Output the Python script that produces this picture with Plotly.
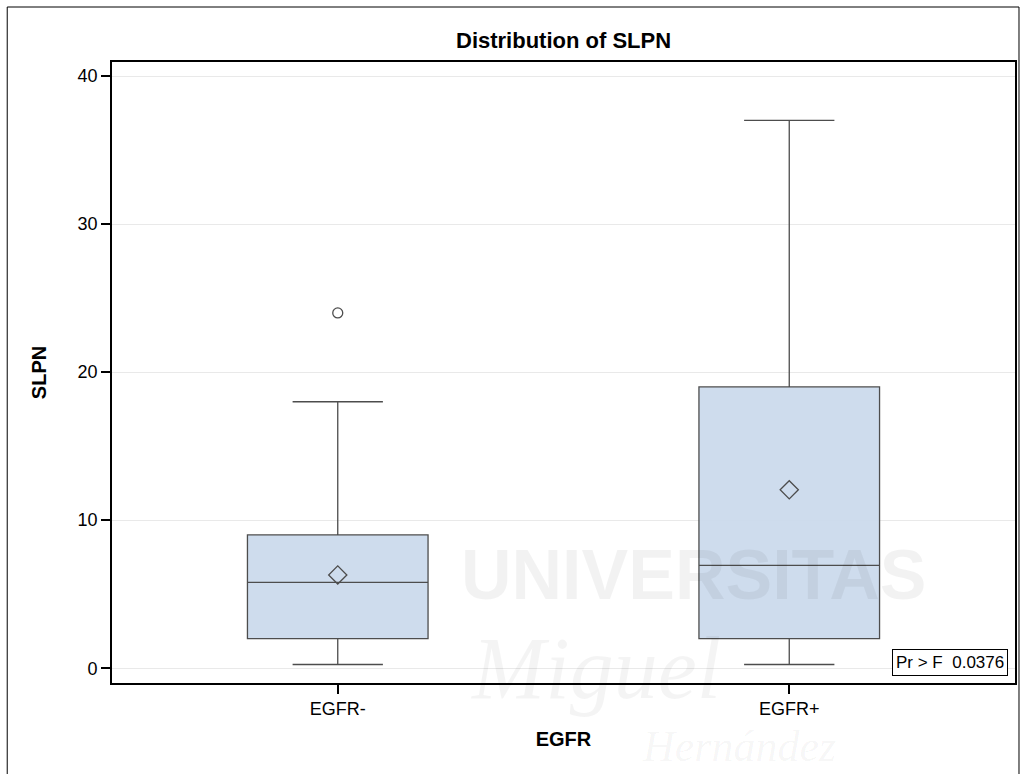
import plotly.graph_objects as go

# Summary statistics of SLPN by EGFR status
groups = ["EGFR-", "EGFR+"]
q1 = [2.0, 2.0]
median = [5.8, 6.95]
q3 = [9.0, 19.0]
lower_whisker = [0.25, 0.25]
upper_whisker = [18.0, 37.0]
means = [6.3, 12.05]
outlier_groups = ["EGFR-"]
outlier_values = [24.0]
p_value = "0.0376"

W, H = 1022, 774
L, R, T, B = 112, 5, 62, 91
pw, ph = W - L - R, H - T - B

def px_x(p):
    return (p - L) / pw

def px_y(p):
    return (H - B - p) / ph

FONT = "Liberation Sans, Arial, sans-serif"
LINE = "#4d4d4d"

fig = go.Figure()

fig.add_trace(go.Box(
    x=groups, q1=q1, median=median, q3=q3,
    lowerfence=lower_whisker, upperfence=upper_whisker,
    width=0.4, whiskerwidth=0.5,
    fillcolor="rgba(203,218,236,0.95)",
    line=dict(color=LINE, width=1.3),
    boxpoints=False, showlegend=False, hoverinfo="skip",
))

fig.add_trace(go.Scatter(
    x=groups, y=means, mode="markers",
    marker=dict(symbol="diamond-open", size=14, color=LINE, line=dict(width=1.3)),
    showlegend=False,
))

fig.add_trace(go.Scatter(
    x=outlier_groups, y=outlier_values, mode="markers",
    marker=dict(symbol="circle-open", size=10, color=LINE, line=dict(width=1.3)),
    showlegend=False,
))

annotations = [
    dict(text="<b>Distribution of SLPN</b>", xref="paper", yref="paper",
         x=0.5, y=px_y(40), xanchor="center", yanchor="middle", showarrow=False,
         font=dict(family=FONT, size=22, color="black")),
    dict(text=f"Pr > F  {p_value}", xref="paper", yref="paper",
         x=px_x(1010), y=px_y(676), xanchor="right", yanchor="bottom",
         showarrow=False, bordercolor="black", borderwidth=1, borderpad=3,
         bgcolor="white", font=dict(family=FONT, size=17, color="black")),
    # faint watermark lettering
    dict(text="<b>UNIVERSITAS</b>", xref="paper", yref="paper",
         x=px_x(695), y=px_y(575), xanchor="center", yanchor="middle", showarrow=False,
         font=dict(family=FONT, size=70, color="rgba(0,0,0,0.05)")),
    dict(text="<i>Miguel</i>", xref="paper", yref="paper",
         x=px_x(597), y=px_y(668), xanchor="center", yanchor="middle", showarrow=False,
         font=dict(family="Liberation Serif, serif", size=88, color="rgba(0,0,0,0.045)")),
    dict(text="<i>Hernández</i>", xref="paper", yref="paper",
         x=px_x(740), y=px_y(746), xanchor="center", yanchor="middle", showarrow=False,
         font=dict(family="Liberation Serif, serif", size=44, color="rgba(0,0,0,0.045)")),
]

shapes = [
    # outer frame
    dict(type="rect", xref="paper", yref="paper",
         x0=px_x(7), x1=px_x(1021), y0=px_y(800), y1=px_y(7),
         line=dict(color="black", width=1), layer="below"),
]

fig.update_layout(
    width=W, height=H,
    margin=dict(l=L, r=R, t=T, b=B),
    paper_bgcolor="white", plot_bgcolor="white",
    font=dict(family=FONT, size=18, color="black"),
    annotations=annotations, shapes=shapes,
    xaxis=dict(
        type="category", range=[-0.5, 1.5],
        showline=True, linecolor="black", linewidth=1.6, mirror=True,
        ticks="outside", ticklen=9, tickcolor="black", tickwidth=1.5,
        showgrid=False, zeroline=False,
        tickfont=dict(family=FONT, size=18),
        title=dict(text="<b>EGFR</b>", font=dict(family=FONT, size=20), standoff=14),
    ),
    yaxis=dict(
        range=[-1.0, 40.95],
        tickvals=[0, 10, 20, 30, 40],
        showline=True, linecolor="black", linewidth=1.6, mirror=True,
        ticks="outside", ticklen=9, tickcolor="black", tickwidth=1.5,
        showgrid=True, gridcolor="#e9e9e9", gridwidth=1, zeroline=False,
        tickfont=dict(family=FONT, size=18),
        title=dict(text="<b>SLPN</b>", font=dict(family=FONT, size=20), standoff=26),
    ),
)

fig.write_html("out.html")
